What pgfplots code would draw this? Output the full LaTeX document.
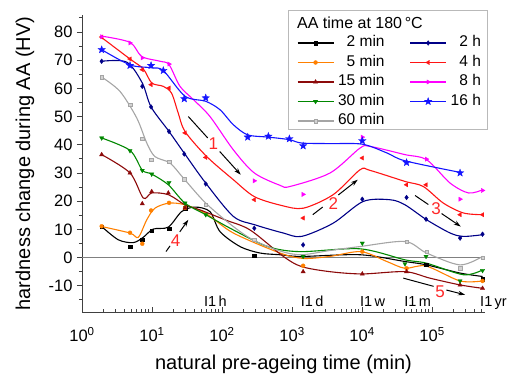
\documentclass[border=0pt]{standalone}
\usepackage{fontspec}
\setmainfont{Liberation Sans}
\usepackage{pgfplots}
\pgfplotsset{compat=1.18}
\usetikzlibrary{arrows.meta,plotmarks}
\definecolor{cBk}{RGB}{0,0,0}
\definecolor{cOr}{RGB}{255,128,0}
\definecolor{cDr}{RGB}{140,10,10}
\definecolor{cGn}{RGB}{0,135,0}
\definecolor{cGy}{RGB}{165,165,165}
\definecolor{cNv}{RGB}{0,0,135}
\definecolor{cRd}{RGB}{255,20,20}
\definecolor{cMg}{RGB}{255,0,255}
\definecolor{cBl}{RGB}{20,20,255}
\definecolor{cNum}{RGB}{255,40,40}
\pgfdeclareplotmark{fstar}{%
\pgfpathmoveto{\pgfpointpolar{90}{\pgfplotmarksize}}%
\pgfpathlineto{\pgfpointpolar{126}{0.42\pgfplotmarksize}}%
\pgfpathlineto{\pgfpointpolar{162}{\pgfplotmarksize}}%
\pgfpathlineto{\pgfpointpolar{198}{0.42\pgfplotmarksize}}%
\pgfpathlineto{\pgfpointpolar{234}{\pgfplotmarksize}}%
\pgfpathlineto{\pgfpointpolar{270}{0.42\pgfplotmarksize}}%
\pgfpathlineto{\pgfpointpolar{306}{\pgfplotmarksize}}%
\pgfpathlineto{\pgfpointpolar{342}{0.42\pgfplotmarksize}}%
\pgfpathlineto{\pgfpointpolar{18}{\pgfplotmarksize}}%
\pgfpathlineto{\pgfpointpolar{54}{0.42\pgfplotmarksize}}%
\pgfpathclose\pgfusepathqfillstroke}
\pgfplotsset{
 crv/.style={smooth, line width=1.1bp, forget plot},
 mk/.style={only marks, forget plot},
 m2m/.style={mark=square*, mark size=1.7bp, mark options={solid,line width=0.3bp}},
 m5m/.style={mark=*, mark size=2bp, mark options={solid,line width=0.3bp}},
 m15/.style={mark=triangle*, mark size=2.5bp, mark options={solid,line width=0.3bp}},
 m30/.style={mark=triangle*, mark size=2.5bp, mark options={solid,line width=0.3bp,rotate=180}},
 m60/.style={mark=square*, mark size=1.7bp, mark options={solid,line width=0.3bp,fill=cGy!50}},
 m2h/.style={mark=diamond*, mark size=2.4bp, mark options={solid,line width=0.3bp}},
 m4h/.style={mark=triangle*, mark size=2.5bp, mark options={solid,line width=0.3bp,rotate=90}},
 m8h/.style={mark=triangle*, mark size=2.5bp, mark options={solid,line width=0.3bp,rotate=-90}},
 m16/.style={mark=fstar, mark size=3.9bp, mark options={solid,line width=0.3bp}},
}
\tikzset{
 arr/.style={line width=1bp, black},
 num/.style={text=cNum, font=\fontsize{17bp}{20bp}\selectfont, inner sep=0pt},
 ilab/.style={anchor=base west, inner sep=0pt, xshift=-2.5bp, font=\fontsize{14.5bp}{17bp}\selectfont},
}
\begin{document}
\begin{tikzpicture}
\begin{axis}[
 scale only axis, width=403bp, height=297bp,
 xmode=log, xmin=1, xmax=5.7e5, ymin=-19.3, ymax=86,
 axis x line=bottom, axis y line=left,
 axis line style={-, black!75, line width=1bp},
 clip=false,
 xtick={1,10,100,1000,10000,100000},
 xticklabels={10\textsuperscript{0},10\textsuperscript{1},10\textsuperscript{2},10\textsuperscript{3},10\textsuperscript{4},10\textsuperscript{5}},
 minor xtick={2,3,4,5,6,7,8,9,20,30,40,50,60,70,80,90,200,300,400,500,600,700,800,900,2000,3000,4000,5000,6000,7000,8000,9000,20000,30000,40000,50000,60000,70000,80000,90000,200000,300000,400000,500000},
 ytick={-10,0,10,20,30,40,50,60,70,80},
 minor ytick={-15,-5,5,15,25,35,45,55,65,75,85},
 tick align=inside,
 major tick length=5bp, minor tick length=3bp,
 tick style={black!75, line width=0.8bp},
 major y tick style={xshift=-5bp}, minor y tick style={xshift=-3bp},
 /pgf/number format/assume math mode=true,
 tick label style={font=\fontsize{16.5bp}{19bp}\selectfont},
 yticklabel style={xshift=-6bp},
 xticklabel style={anchor=base, yshift=-29.7bp},
 xlabel={natural pre-ageing time (min)},
 xlabel style={font=\fontsize{20bp}{24bp}\selectfont, at={(axis description cs:0.5,-0.1936)}, anchor=base},
 ylabel={hardness change during AA (HV)},
 ylabel style={font=\fontsize{20bp}{24bp}\selectfont, at={(axis description cs:-0.129,0.5)}, anchor=base},
 legend columns=2,
 legend cell align=right,
 legend style={at={(0.5335,0.9327)}, anchor=north west, draw=none, fill=none, inner sep=0pt, outer sep=0pt,
   font=\fontsize{15.5bp}{18bp}\selectfont, row sep=3.5bp,
   nodes={inner sep=1bp, text height=11bp, text depth=3bp},
   /tikz/every odd column/.append style={column sep=3bp},
   /tikz/every even column/.append style={column sep=24bp}},
 legend image code/.code={\draw[mark repeat=2,mark phase=2,#1] plot coordinates {(0bp,0bp) (18bp,0bp) (36bp,0bp)};},
]
% zero line
\addplot[forget plot, gray, line width=1.2bp] coordinates {(1,0) (5.7e5,0)};

% 2 min
\addplot[crv, cBk] coordinates {(1.91,11.0) (3.3,6.3) (5.4,5.3) (7.51,7.2) (10.4,10.1) (17.1,10.8) (26.5,16.3) (41.1,17.9) (67.3,16.3) (93.6,9.2) (181,3.9) (349,1.6) (675,1.0) (1370,0.4) (9320,1.0) (41000,-1.4) (83500,-2.6) (251000,-5.5) (525600,-6.7)};
\addplot[mk, cBk, m2m] coordinates {(1.91,11.0) (4.85,3.9) (7.26,6.3) (9.9,9.6) (17.5,10.2) (29.6,17.5) (289,0.6) (82000,-2.6) (525600,-7.6)};
% 5 min
\addplot[crv, cOr] coordinates {(1.91,11.0) (4.85,8.7) (6.37,7.2) (8.42,13.4) (11,17.5) (17.5,19.3) (29.6,18.7) (60,15.5) (145,8.7) (675,1.6) (1440,-0.3) (3470,0.4) (9640,2.1) (22600,-1.4) (41000,-3.8) (82000,-3.0) (251000,-8.3) (525600,-8.3)};
\addplot[mk, cOr, m5m] coordinates {(1.91,11.1) (4.85,8.8) (7.26,4.9) (9.7,16.7) (17.5,19.4) (29.6,17.6) (1440,-2.9) (10080,2.1) (43200,-3.8) (525600,-8.3)};
% 15 min
\addplot[crv, cDr] coordinates {(1.91,36.5) (4.85,30) (7.51,21.1) (9.9,22.9) (17.1,22.3) (29.6,18.7) (48.5,16.9) (110,13.4) (251,9.8) (751,0.4) (1370,-3.2) (3470,-5.0) (10080,-5.8) (41000,-5.0) (93000,-7.3) (251000,-9.7) (525600,-10.9)};
\addplot[mk, cDr, m15] coordinates {(1.91,36.5) (4.85,30.0) (7.26,19.1) (9.9,23.4) (17.1,22.9) (29.6,17.6) (1440,-5.0) (10080,-5.8) (43200,-5.0) (251000,-9.7) (525600,-10.9)};
% 30 min
\addplot[crv, cGn] coordinates {(1.91,42.4) (4.85,38.0) (7.26,31.0) (9.9,29.6) (17.1,25.8) (29.6,19.3) (58.5,15.2) (145,9.8) (450,3.9) (1300,2.1) (9320,3.1) (41000,-0.8) (83500,-2.0) (281000,-6.1) (525600,-4.4)};
\addplot[mk, cGn, m30] coordinates {(1.91,42.4) (4.85,37.9) (7.26,30.9) (9.9,29.6) (17.5,26.6) (29.6,19.3) (58.5,15.2) (1440,0.4) (10080,5.1) (41000,-2.2) (82000,0.4) (251000,-8.3) (525600,-4.6)};
% 60 min
\addplot[crv, cGy] coordinates {(1.91,64) (3.49,58.9) (6.05,49.5) (8.42,40.6) (11,35.8) (18.1,33.5) (28,28.2) (58.5,19.3) (145,11) (290,6) (700,2.2) (1370,1.0) (3470,2.5) (9320,3.9) (41000,5.7) (83500,1.6) (251000,-2.6) (525600,0.4)};
\addplot[mk, cGy, m60] coordinates {(1.91,64.0) (4.85,54.2) (7.26,42.1) (9.7,34.7) (17.5,33.9) (28.9,27.8) (58.5,18.7) (289,6.3) (43200,5.7) (83000,2.1) (251000,-3.8) (525600,0)};
% 2 h
\addplot[crv, cNv] coordinates {(1.91,69.6) (4.35,69.3) (7.26,61.9) (9.7,53.4) (17.5,44.7) (28.9,37.0) (58.5,26.4) (145,14.6) (296,11.6) (751,8.7) (1370,7.5) (3870,12.2) (10400,19.9) (25100,20.5) (41000,18.7) (83500,13.4) (181000,8.7) (281000,7.5) (525600,8.1)};
\addplot[mk, cNv, m2h] coordinates {(1.91,69.6) (7.26,60.7) (9.7,53.4) (17.5,44.7) (28.9,36.7) (58.5,26.1) (289,10.4) (1440,4.5) (10080,20.7) (43200,21.3) (82000,13.6) (251000,6.9) (525600,8.3)};
% 4 h
\addplot[crv, cRd] coordinates {(1.91,78.0) (4.85,70.4) (7.51,66.9) (9.9,61.9) (14.5,60.7) (19,58.3) (23.7,51.2) (29.6,44.7) (60.5,35.8) (145,27.6) (290,21.6) (700,18.5) (1446,17.5) (3870,22.3) (9320,31.1) (13000,30.9) (41000,27.0) (74800,25.2) (145000,19.3) (281000,15.8) (525600,15.2)};
\addplot[mk, cRd, m4h] coordinates {(1.91,78.2) (4.85,70.4) (7.26,66.6) (9.7,61.3) (17.5,60.1) (29.6,44.2) (58.5,35.5) (289,20.5) (1440,14.0) (10080,35.3) (43200,25.8) (82000,25.8) (251000,15.2) (525600,15.2)};
% 8 h
\addplot[crv, cMg] coordinates {(1.91,78.5) (4.85,76.3) (7.11,71.3) (13,69.6) (17.5,68.4) (25.1,60.7) (39,56) (67.3,50) (145,38.2) (289,30.0) (675,25.6) (935,25.2) (3500,30) (9320,38.8) (13000,39.4) (41000,36.5) (83500,34.7) (181000,26.4) (331000,22.9) (525600,24.0)};
\addplot[mk, cMg, m8h] coordinates {(1.91,78.3) (4.85,76.1) (7.26,70.8) (17.5,68.6) (289,27.2) (1440,22.4) (10080,42.7) (83000,34.9) (251000,20.7) (525600,23.8)};
% 16 h
\addplot[crv, cBl] coordinates {(1.91,73.7) (4.85,68.3) (9.7,67.3) (14.5,66.3) (29.6,57.2) (58.5,55.4) (93.6,52.4) (145,47.1) (233,43.5) (459,42.7) (915,41.8) (1370,40.6) (3470,40.4) (10080,40.2) (22600,37.1) (41000,34.3) (251000,30.2)};
\addplot[mk, cBl, m16] coordinates {(1.91,73.7) (4.85,68.1) (9.7,68.1) (14.5,66.3) (28.9,56.3) (58.5,56.6) (233,42.7) (459,43.0) (915,42.1) (1440,39.6) (10080,41.4) (43200,33.7) (251000,30.0)};

% legend (row-wise order for two columns)
\addlegendimage{cBk, line width=1.1bp, m2m}\addlegendentry{2 min}
\addlegendimage{cNv, line width=1.1bp, m2h}\addlegendentry{2 h}
\addlegendimage{cOr, line width=1.1bp, m5m}\addlegendentry{5 min}
\addlegendimage{cRd, line width=1.1bp, m4h}\addlegendentry{4 h}
\addlegendimage{cDr, line width=1.1bp, m15}\addlegendentry{15 min}
\addlegendimage{cMg, line width=1.1bp, m8h}\addlegendentry{8 h}
\addlegendimage{cGn, line width=1.1bp, m30}\addlegendentry{30 min}
\addlegendimage{cBl, line width=1.1bp, m16}\addlegendentry{16 h}
\addlegendimage{cGy, line width=1.1bp, m60}\addlegendentry{60 min}

% legend box and title
\draw[gray!55, line width=0.8bp] (rel axis cs:0.511,0.616) rectangle (rel axis cs:1.005,1.017);
\node[anchor=west, inner sep=0pt, font=\fontsize{16bp}{19bp}\selectfont] at (rel axis cs:0.5335,0.973) {AA time at 180\,°C};

% time markers
\node[ilab] at (axis cs:60,-17.4) {I1\,h};
\node[ilab] at (axis cs:1440,-17.4) {I1\,d};
\node[ilab] at (axis cs:10080,-17.4) {I1\,w};
\node[ilab] at (axis cs:43200,-17.4) {I1\,m};
\node[ilab] at (axis cs:525600,-17.4) {I1\,yr};

% arrows and numbers
\draw[arr] (axis cs:33.0,50.0) -- (axis cs:62.5,42.4);
\draw[arr, -{Stealth[length=7bp,width=4.5bp]}] (axis cs:92.7,37.6) -- (axis cs:185,29.35);
\node[num] at (axis cs:75.1,40.4) {1};
\draw[arr] (axis cs:1977,15.2) -- (axis cs:2735,17.9);
\draw[arr, -{Stealth[length=7bp,width=4.5bp]}] (axis cs:4592,22.2) -- (axis cs:8680,27.6);
\node[num] at (axis cs:3890,19.3) {2};
\draw[arr] (axis cs:57150,22.0) -- (axis cs:88500,18.8);
\draw[arr, -{Stealth[length=7bp,width=4.5bp]}] (axis cs:136700,15.6) -- (axis cs:257000,11.0);
\node[num] at (axis cs:114000,17.2) {3};
\draw[arr] (axis cs:15.85,2.13) -- (axis cs:18.1,4.15);
\draw[arr, -{Stealth[length=7bp,width=4.5bp]}] (axis cs:24.9,9.1) -- (axis cs:33.0,13.4);
\node[num] at (axis cs:21.8,6.0) {4};
\draw[arr] (axis cs:38900,-7.3) -- (axis cs:105000,-10.2);
\draw[arr, -{Stealth[length=7bp,width=4.5bp]}] (axis cs:159700,-11.5) -- (axis cs:296000,-13.2);
\node[num] at (axis cs:130000,-12.1) {5};

\coordinate (sw) at (rel axis cs:0,0);
\coordinate (ne) at (rel axis cs:1,1);
\end{axis}
\pgfresetboundingbox
\path ([shift={(-82bp,-64bp)}]sw) rectangle ([shift={(29bp,15bp)}]ne);
\end{tikzpicture}
\end{document}
